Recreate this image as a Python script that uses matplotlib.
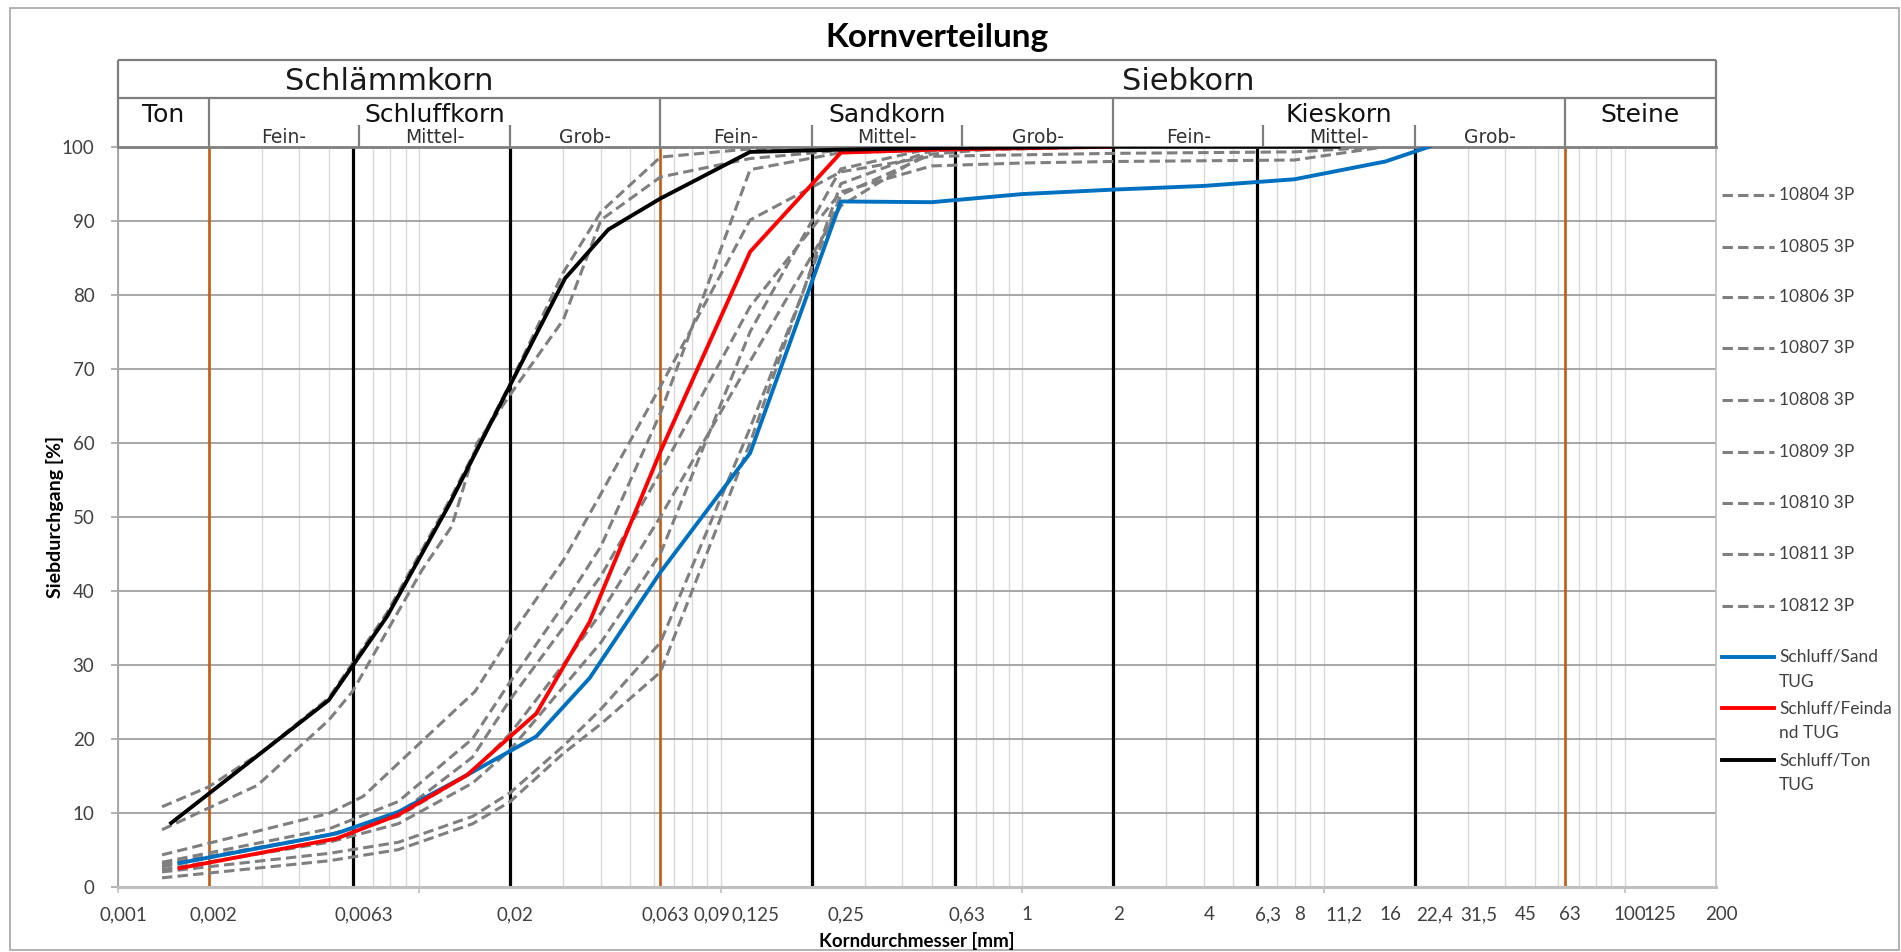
import numpy as np
import matplotlib
matplotlib.use("Agg")
import matplotlib.pyplot as plt
from matplotlib.lines import Line2D
from matplotlib.patches import Rectangle
from matplotlib.ticker import FixedLocator, LogLocator, NullFormatter
from matplotlib.transforms import blended_transform_factory, ScaledTranslation

# ---------------------------------------------------------------- data
x_tick_values = [0.001, 0.002, 0.0063, 0.02, 0.063, 0.09, 0.125, 0.25, 0.63, 1, 2, 4,
                 6.3, 8, 11.2, 16, 22.4, 31.5, 45, 63, 100, 125, 200]
x_tick_labels = ["0,001", "0,002", "0,0063", "0,02", "0,063", "0,09", "0,125", "0,25",
                 "0,63", "1", "2", "4", "6,3", "8", "11,2", "16", "22,4", "31,5", "45",
                 "63", "100", "125", "200"]
y_ticks = list(range(0, 101, 10))

# soil class boundaries [mm]
orange_bounds = [0.002, 0.063, 63]
black_bounds = [0.006, 0.02, 0.2, 0.6, 2, 6, 20]
header_main_bounds = [0.002, 0.063, 2, 63]
header_sub_bounds = [0.0063, 0.02, 0.2, 0.63, 6.3, 20]

row1_labels = [("Schlämmkorn", 0.001, 0.063), ("Siebkorn", 0.063, 200)]
row2_labels = [("Ton", 0.001, 0.002), ("Schluffkorn", 0.002, 0.063),
               ("Sandkorn", 0.063, 2), ("Kieskorn", 2, 63), ("Steine", 63, 200)]
sub_names = ["Fein-", "Mittel-", "Grob-"]
sub_groups = [[0.002, 0.0063, 0.02, 0.063], [0.063, 0.2, 0.63, 2], [2, 6.3, 20, 63]]

# sample curves (grain diameter [mm], passing [%])
s10804_d = [0.0014, 0.002, 0.003, 0.005, 0.0078, 0.0125, 0.02, 0.03, 0.04, 0.063, 0.125, 0.25, 0.5, 1, 2]
s10804_p = [10.8, 13.5, 18.2, 25.5, 37.0, 52.0, 68.0, 83.0, 91.2, 98.6, 99.7, 100, 100, 100, 100]

s10805_d = [0.0014, 0.0029, 0.005, 0.006, 0.0102, 0.0128, 0.0155, 0.02, 0.03, 0.04, 0.063, 0.125, 0.25, 0.5, 1, 2]
s10805_p = [7.7, 13.7, 22.5, 26.4, 42.8, 48.7, 59.9, 66.5, 76.6, 90.1, 95.9, 98.4, 99.5, 100, 100, 100]

s10806_d = [0.0014, 0.005, 0.0065, 0.0153, 0.02, 0.03, 0.039, 0.063, 0.125, 0.25, 0.5, 1, 2, 4, 8, 16]
s10806_p = [4.3, 9.9, 12.2, 26.4, 33.8, 44.1, 52.3, 67.6, 90.1, 96.6, 98.7, 98.9, 99.1, 99.2, 99.3, 100]

s10807_d = [0.0014, 0.005, 0.0085, 0.015, 0.02, 0.03, 0.04, 0.063, 0.125, 0.25, 0.5, 1, 2]
s10807_p = [3.3, 7.8, 11.5, 20.0, 27.7, 38.0, 46.0, 64.0, 96.9, 99.2, 99.5, 99.7, 100]

s10808_d = [0.0014, 0.005, 0.0085, 0.015, 0.02, 0.03, 0.04, 0.063, 0.125, 0.25, 0.5, 1, 2, 4, 8, 16]
s10808_p = [2.7, 7.0, 9.8, 17.5, 25.3, 35.0, 42.0, 56.0, 78.4, 93.9, 97.4, 97.8, 98.0, 98.1, 98.2, 100]

s10809_d = [0.0014, 0.005, 0.0085, 0.015, 0.02, 0.03, 0.04, 0.063, 0.125, 0.25, 0.5, 1]
s10809_p = [3.0, 7.0, 9.5, 15.5, 20.7, 30.0, 37.0, 50.0, 71.0, 92.0, 99.5, 100]

s10810_d = [0.0014, 0.005, 0.0085, 0.015, 0.02, 0.03, 0.04, 0.063, 0.125, 0.25, 0.5, 1]
s10810_p = [2.0, 4.5, 6.0, 9.5, 12.7, 19.0, 24.0, 33.0, 62.0, 93.5, 99.0, 100]

s10811_d = [0.0014, 0.005, 0.0085, 0.015, 0.02, 0.03, 0.04, 0.063, 0.125, 0.25, 0.5, 1]
s10811_p = [1.2, 3.5, 5.0, 8.5, 11.5, 18.0, 22.0, 29.0, 60.0, 95.0, 99.5, 100]

s10812_d = [0.0014, 0.005, 0.0085, 0.015, 0.02, 0.03, 0.04, 0.063, 0.125, 0.25, 0.5, 1]
s10812_p = [2.3, 6.0, 8.5, 14.0, 18.5, 27.0, 33.0, 45.0, 75.0, 97.0, 99.8, 100]

sample_names = ["10804 3P", "10805 3P", "10806 3P", "10807 3P", "10808 3P",
                "10809 3P", "10810 3P", "10811 3P", "10812 3P"]
sample_d = [s10804_d, s10805_d, s10806_d, s10807_d, s10808_d, s10809_d, s10810_d, s10811_d, s10812_d]
sample_p = [s10804_p, s10805_p, s10806_p, s10807_p, s10808_p, s10809_p, s10810_p, s10811_p, s10812_p]

# reference curves
sand_d = [0.0016, 0.0053, 0.0085, 0.0144, 0.0244, 0.0367, 0.063, 0.125, 0.25, 0.5, 1, 2, 4, 8, 16, 22.4]
sand_p = [3.2, 7.2, 10.1, 15.1, 20.3, 28.2, 42.5, 58.6, 92.6, 92.5, 93.6, 94.2, 94.7, 95.6, 98.0, 100]

feinsand_d = [0.0016, 0.0053, 0.0085, 0.0144, 0.02, 0.0244, 0.0367, 0.063, 0.125, 0.25, 0.5, 1, 2]
feinsand_p = [2.5, 6.5, 9.7, 15.1, 20.3, 23.4, 35.8, 58.8, 85.8, 99.2, 99.6, 99.8, 100]

ton_d = [0.0015, 0.005, 0.0078, 0.0125, 0.02, 0.0304, 0.0423, 0.063, 0.125, 0.25, 0.5, 1, 2, 4, 8, 11.2]
ton_p = [8.6, 25.2, 36.5, 51.5, 67.8, 82.2, 88.8, 93.0, 99.3, 99.6, 99.8, 99.9, 100, 100, 100, 100]

main_names = ["Schluff/Sand\nTUG", "Schluff/Feinda\nnd TUG", "Schluff/Ton\nTUG"]
main_d = [sand_d, feinsand_d, ton_d]
main_p = [sand_p, feinsand_p, ton_p]
main_colors = ["#0070C0", "#FF0000", "#000000"]

# ---------------------------------------------------------------- figure
W, H = 1901, 952
fig = plt.figure(figsize=(W / 100, H / 100), dpi=100)
fig.patch.set_facecolor("white")

TXT = "#404040"
CAL = ["Lato", "DejaVu Sans"]
HDR = ["DejaVu Sans"]

L, R, T, B = 118, 1716, 146.7, 886.7
ax = fig.add_axes([L / W, 1 - B / H, (R - L) / W, (B - T) / H])
ax.set_xscale("log")
ax.set_xlim(0.001, 200)
ax.set_ylim(0, 100)

# grid
ax.xaxis.remove_overlapping_locs = False
ax.xaxis.set_minor_locator(LogLocator(base=10, subs=np.arange(1, 10), numticks=40))
ax.xaxis.set_minor_formatter(NullFormatter())
ax.xaxis.set_major_locator(FixedLocator(x_tick_values))
ax.set_xticklabels(x_tick_labels)
ax.set_yticks(y_ticks)
ax.grid(False)
ax.grid(True, which="minor", axis="x", color="#D9D9D9", lw=1.0, zorder=0)
ax.grid(True, which="major", axis="y", color="#A6A6A6", lw=1.4, zorder=0)
ax.set_axisbelow(True)

ax.tick_params(axis="x", which="both", length=0, pad=14, labelsize=13.5, labelcolor=TXT)
ax.tick_params(axis="y", which="major", length=5, width=1.2, color="#A6A6A6", pad=12,
               labelsize=13.5, labelcolor=TXT)
for lbl in ax.get_xticklabels() + ax.get_yticklabels():
    lbl.set_family(CAL)
for lbl in ax.get_xticklabels():
    lbl.set_transform(lbl.get_transform() + ScaledTranslation(5 / 100, 0, fig.dpi_scale_trans))

for side, col, lw in [("left", "#A6A6A6", 1.4), ("bottom", "#BFBFBF", 2.2),
                      ("right", "#BFBFBF", 1.2), ("top", "#7F7F7F", 2.0)]:
    ax.spines[side].set_color(col)
    ax.spines[side].set_linewidth(lw)

# decade tick marks below the x axis
decades = [1e-3, 1e-2, 1e-1, 1, 10, 100]
trans_xa = blended_transform_factory(ax.transData, ax.transAxes)
ax.vlines(decades, -6 / (B - T), 0, transform=trans_xa, color="#BFBFBF", lw=1.2, clip_on=False)

# class boundaries
for xb in black_bounds:
    ax.axvline(xb, color="black", lw=2.3, zorder=1.5)
for xb in orange_bounds:
    ax.axvline(xb, color="#C55A11", lw=1.9, zorder=1.5)

# curves
gray_style = dict(color="#7F7F7F", lw=2.2, ls=(0, (3.4, 1.7)), zorder=2)
for d, p in zip(sample_d, sample_p):
    ax.plot(d, p, **gray_style)
for d, p, c in zip(main_d, main_p, main_colors):
    ax.plot(d, p, color=c, lw=2.8, zorder=3, solid_joinstyle="round")

# ---------------------------------------------------------------- header table
hT = 60.0
hax = fig.add_axes([L / W, 1 - T / H, (R - L) / W, (T - hT) / H])
hax.set_xscale("log")
hax.set_xlim(0.001, 200)
hax.set_ylim(0, 1)
hax.axis("off")


def yf(ypix):
    return (T - ypix) / (T - hT)


hc, hlw = "#7F7F7F", 1.6
hax.hlines([1.0, yf(98.3)], 0.001, 200, color=hc, lw=hlw, clip_on=False)
hax.vlines([0.001, 200], 0, 1, color=hc, lw=hlw, clip_on=False)
hax.vlines(header_main_bounds, 0, yf(98.3), color=hc, lw=hlw, clip_on=False)
hax.vlines(header_sub_bounds, 0, yf(125), color=hc, lw=hlw, clip_on=False)

for name, a, b in row1_labels:
    hax.text(np.sqrt(a * b), yf(82), name, ha="center", va="center",
             fontsize=22, family=HDR, color="#1A1A1A")
for name, a, b in row2_labels:
    hax.text(np.sqrt(a * b), yf(115.5), name, ha="center", va="center",
             fontsize=18, family=HDR, color="#111111")
for grp in sub_groups:
    for name, a, b in zip(sub_names, grp[:-1], grp[1:]):
        hax.text(np.sqrt(a * b), yf(137.5), name, ha="center", va="center",
                 fontsize=13.5, family=HDR, color="#333333")

# ---------------------------------------------------------------- titles
fig.text(937 / W, 1 - 37 / H, "Kornverteilung", ha="center", va="center",
         fontsize=24, fontweight="bold", family=CAL, color="black")
fig.text(917 / W, 1 - 941 / H, "Korndurchmesser [mm]", ha="center", va="center",
         fontsize=13.5, fontweight="bold", family=CAL, color="black")
fig.text(55 / W, 1 - 516.7 / H, "Siebdurchgang [%]", ha="center", va="center",
         rotation=90, fontsize=14, fontweight="bold", family=CAL, color="black")

# ---------------------------------------------------------------- legend
x0, x1, xt = 1722, 1774, 1779
leg_y = [195, 246.7, 296.7, 348, 400, 451.7, 502.7, 554, 606]
for y, name in zip(leg_y, sample_names):
    fig.add_artist(Line2D([x0 / W, x1 / W], [1 - y / H, 1 - y / H], color="#7F7F7F",
                          lw=2.2, ls=(0, (3.4, 1.7))))
    fig.text(xt / W, 1 - y / H, name, ha="left", va="center", fontsize=12.5,
             family=CAL, color=TXT)
main_leg_y = [657, 708, 760]
for y, name, c in zip(main_leg_y, main_names, main_colors):
    fig.add_artist(Line2D([x0 / W, x1 / W], [1 - y / H, 1 - y / H], color=c, lw=2.8))
    for k, part in enumerate(name.split("\n")):
        fig.text(xt / W, 1 - (y + 25 * k) / H, part, ha="left", va="center",
                 fontsize=12.5, family=CAL, color=TXT)

# outer chart border
fig.add_artist(Rectangle((10 / W, 1 - 950 / H), (1899 - 10) / W, (950 - 8) / H,
                         fill=False, ec="#A6A6A6", lw=1.2))

fig.savefig("out.png", dpi=100)
